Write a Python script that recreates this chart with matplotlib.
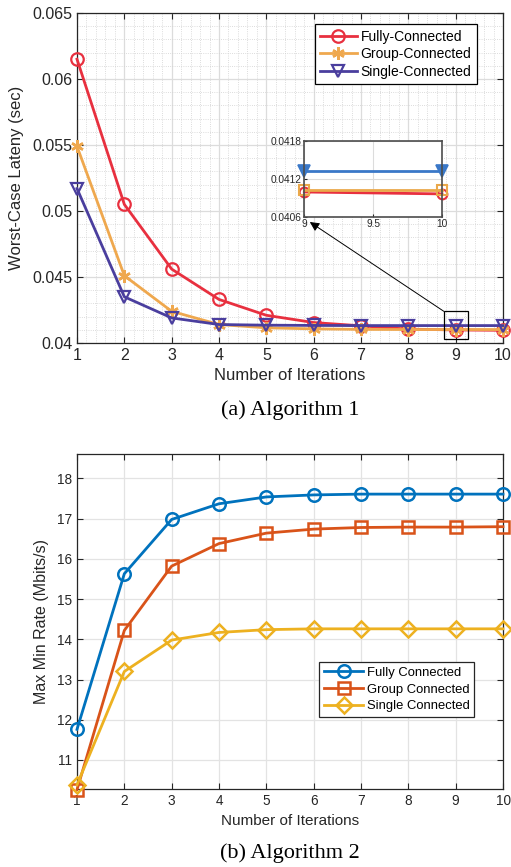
import matplotlib
matplotlib.use("Agg")
import matplotlib.pyplot as plt
from matplotlib.ticker import MultipleLocator, AutoMinorLocator
from matplotlib.patches import Rectangle

plt.rcParams['font.family'] = ['Liberation Sans', 'DejaVu Sans']

iters = [1, 2, 3, 4, 5, 6, 7, 8, 9, 10]

# (a) Algorithm 1 -- worst-case latency (sec)
lat_fully = [0.0615, 0.0505, 0.0456, 0.0433, 0.0421, 0.04155, 0.0413, 0.04105, 0.04099, 0.04096]
lat_group = [0.0549, 0.0451, 0.0424, 0.0414, 0.04115, 0.04107, 0.04103, 0.04102, 0.04102, 0.04102]
lat_single = [0.0517, 0.0435, 0.0419, 0.0414, 0.04135, 0.04133, 0.04132, 0.04132, 0.04132, 0.04132]
lat_labels = ['Fully-Connected', 'Group-Connected', 'Single-Connected']

# (b) Algorithm 2 -- max min rate (Mbits/s)
rate_fully = [11.76, 15.63, 16.98, 17.37, 17.54, 17.59, 17.61, 17.61, 17.61, 17.61]
rate_group = [10.26, 14.22, 15.82, 16.38, 16.64, 16.74, 16.78, 16.79, 16.79, 16.80]
rate_single = [10.38, 13.2, 13.98, 14.17, 14.24, 14.26, 14.26, 14.26, 14.26, 14.26]
rate_labels = ['Fully Connected', 'Group Connected', 'Single Connected']

W, H = 511, 867
fig = plt.figure(figsize=(W / 100, H / 100), dpi=100)

def frac(l, t, r, b):
    return [l / W, 1 - b / H, (r - l) / W, (b - t) / H]

spine_c = '#262626'

def style_ax(ax, fs):
    for s in ax.spines.values():
        s.set_color(spine_c)
        s.set_linewidth(0.9)
    ax.tick_params(direction='in', which='both', top=True, right=True,
                   labelsize=fs, colors=spine_c, length=4)
    ax.tick_params(which='minor', length=0)

# ---------- top plot ----------
ax1 = fig.add_axes(frac(77, 13, 503, 343))
c_red, c_org, c_pur = '#e8303f', '#efa84e', '#4a3e9e'
ax1.plot(iters, lat_fully, color=c_red, lw=2, marker='o', ms=9, mfc='none', mew=1.6, label=lat_labels[0], zorder=3, clip_on=False)
ax1.plot(iters, lat_group, color=c_org, lw=2, marker=(6, 2, 0), ms=9, mew=1.8, label=lat_labels[1], zorder=3, clip_on=False)
ax1.plot(iters, lat_single, color=c_pur, lw=2, marker='v', ms=9, mfc='none', mew=1.6, label=lat_labels[2], zorder=4, clip_on=False)
ax1.set_xlim(1, 10)
ax1.set_ylim(0.04, 0.065)
ax1.xaxis.set_major_locator(MultipleLocator(1))
ax1.xaxis.set_minor_locator(AutoMinorLocator(5))
ax1.set_yticks([0.04, 0.045, 0.05, 0.055, 0.06, 0.065])
ax1.set_yticklabels(['0.04', '0.045', '0.05', '0.055', '0.06', '0.065'])
ax1.yaxis.set_minor_locator(AutoMinorLocator(5))
ax1.grid(True, which='major', color='#dcdcdc', lw=0.9)
ax1.grid(True, which='minor', color='#d0d0d0', lw=0.6, ls=':')
ax1.set_axisbelow(True)
style_ax(ax1, 11.5)
ax1.set_xlabel('Number of Iterations', fontsize=12, color=spine_c, labelpad=4)
ax1.set_ylabel('Worst-Case Lateny (sec)', fontsize=12, color=spine_c, labelpad=6)
leg1 = ax1.legend(loc='upper right', bbox_to_anchor=(0.939, 0.966), borderaxespad=0,
                  fontsize=10, frameon=True, fancybox=False, handlelength=2.6,
                  handletextpad=0.3, labelspacing=0.25, borderpad=0.4)
leg1.get_frame().set_edgecolor('black')
leg1.get_frame().set_linewidth(0.9)
leg1.get_frame().set_alpha(1)

# zoom rectangle
ax1.add_patch(Rectangle((8.75, 0.0403), 0.5, 0.0021, fill=False, ec='black', lw=0.9, zorder=5))

# inset (zoom on iterations 9-10)
zx = iters[8:]
axins = fig.add_axes(frac(304.3, 140.7, 442, 216.7))
axins.plot(zx, lat_fully[8:], color=c_red, lw=2, marker='o', ms=7, mfc='none', mew=1.5, clip_on=False)
axins.plot(zx, lat_group[8:], color='#eaa84a', lw=2, marker='s', ms=7, mfc='none', mew=1.5, clip_on=False)
axins.plot(zx, lat_single[8:], color='#3a78c8', lw=2, marker='v', ms=8, mew=1.2, clip_on=False)
axins.set_xlim(9, 10)
axins.set_ylim(0.0406, 0.0418)
axins.set_xticks([9, 9.5, 10])
axins.set_xticklabels(['9', '9.5', '10'])
axins.set_yticks([0.0406, 0.0412, 0.0418])
axins.set_yticklabels(['0.0406', '0.0412', '0.0418'])
axins.grid(True, color='#dcdcdc', lw=0.8)
for s in axins.spines.values():
    s.set_color('#4d4d4d')
    s.set_linewidth(1.2)
axins.tick_params(direction='in', labelsize=7.3, colors=spine_c, length=2, pad=2)

ax1.annotate('', xy=(0.04, -0.07), xycoords=axins.transAxes,
             xytext=(8.75, 0.0424), textcoords='data',
             arrowprops=dict(arrowstyle='-|>', color='black', lw=0.7,
                             mutation_scale=14, shrinkA=0, shrinkB=0),
             zorder=6)

fig.text(290 / W, 1 - 410 / H, '(a) Algorithm 1', family='Liberation Serif',
         fontsize=16, ha='center', va='center')

# ---------- bottom plot ----------
ax2 = fig.add_axes(frac(77, 454.3, 503, 789.3))
b1, b2, b3 = '#0072BD', '#D95319', '#EDB120'
ax2.plot(iters, rate_fully, color=b1, lw=2, marker='o', ms=9, mfc='none', mew=1.8, label=rate_labels[0], clip_on=False, zorder=3)
ax2.plot(iters, rate_group, color=b2, lw=2, marker='s', ms=8, mfc='none', mew=1.8, label=rate_labels[1], clip_on=False, zorder=3)
ax2.plot(iters, rate_single, color=b3, lw=2, marker='D', ms=8, mfc='none', mew=1.8, label=rate_labels[2], clip_on=False, zorder=4)
ax2.set_xlim(1, 10)
ax2.set_ylim(10.27, 18.6)
ax2.xaxis.set_major_locator(MultipleLocator(1))
ax2.set_yticks([11, 12, 13, 14, 15, 16, 17, 18])
ax2.grid(True, which='major', color='#e3e3e3', lw=0.9)
ax2.set_axisbelow(True)
style_ax(ax2, 9.8)
ax2.set_xlabel('Number of Iterations', fontsize=11, color=spine_c, labelpad=4)
ax2.set_ylabel('Max Min Rate (Mbits/s)', fontsize=11.5, color=spine_c, labelpad=6)
leg2 = ax2.legend(loc='upper left', bbox_to_anchor=(0.569, 0.379), borderaxespad=0,
                  fontsize=9.4, frameon=True, fancybox=False, handlelength=3.0,
                  handletextpad=0.3, labelspacing=0.35, borderpad=0.35)
leg2.get_frame().set_edgecolor(spine_c)
leg2.get_frame().set_linewidth(0.9)
leg2.get_frame().set_alpha(1)

fig.text(290 / W, 1 - 853 / H, '(b) Algorithm 2', family='Liberation Serif',
         fontsize=16, ha='center', va='center')

fig.savefig('out.png', dpi=100)
